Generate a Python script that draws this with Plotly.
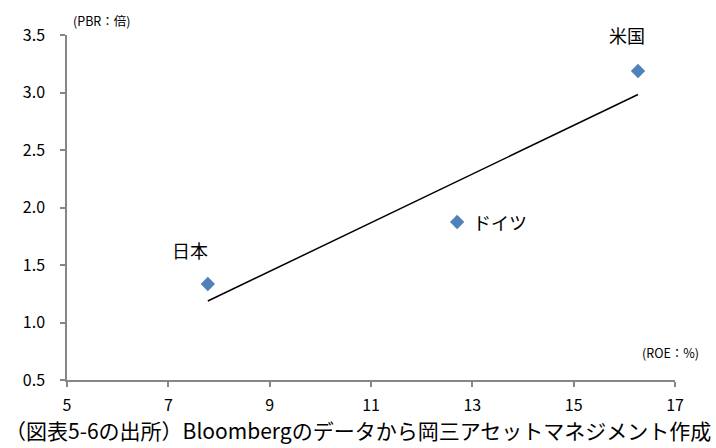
import numpy as np
import plotly.graph_objects as go

countries = ["日本", "ドイツ", "米国"]
roe = [7.78, 12.70, 16.27]
pbr = [1.335, 1.874, 3.187]
x_ticks = [5, 7, 9, 11, 13, 15, 17]
y_ticks = [0.5, 1.0, 1.5, 2.0, 2.5, 3.0, 3.5]

FONT = "Noto Sans CJK JP"

slope, intercept = np.polyfit(roe, pbr, 1)
tx = [min(roe), max(roe)]
ty = [slope * v + intercept for v in tx]

fig = go.Figure()
fig.add_trace(go.Scatter(x=tx, y=ty, mode="lines",
                         line=dict(color="black", width=1.5), hoverinfo="skip"))
fig.add_trace(go.Scatter(x=roe, y=pbr, mode="markers",
                         marker=dict(symbol="diamond", size=11, color="#4F81BD"),
                         text=countries))

# country labels
label_pos = {
    "日本": dict(xshift=-18, yshift=34, xanchor="center"),
    "ドイツ": dict(xshift=14, yshift=0, xanchor="left"),
    "米国": dict(xshift=-11, yshift=36, xanchor="center"),
}
for c, x, y in zip(countries, roe, pbr):
    p = label_pos[c]
    fig.add_annotation(x=x, y=y, text=c, showarrow=False,
                       xanchor=p["xanchor"], yanchor="middle",
                       xshift=p["xshift"], yshift=p["yshift"],
                       font=dict(family=FONT, size=18, color="black"))

fig.add_annotation(xref="paper", yref="paper", x=0.006, y=1.0, yshift=15,
                   text="(PBR：倍)", showarrow=False, xanchor="left", yanchor="middle",
                   font=dict(family=FONT, size=12.5, color="black"))
fig.add_annotation(xref="paper", yref="paper", x=1.043, y=0.0, yshift=28,
                   text="(ROE：%)", showarrow=False, xanchor="right", yanchor="middle",
                   font=dict(family=FONT, size=12.5, color="black"))
fig.add_annotation(xref="paper", yref="paper", x=-0.105, y=0.0, yshift=-67,
                   text="（図表5-6の出所）Bloombergのデータから岡三アセットマネジメント作成",
                   showarrow=False, xanchor="left", yanchor="bottom",
                   font=dict(family=FONT, size=21, color="black"))

axis_common = dict(showgrid=False, zeroline=False, showline=True,
                   linecolor="#868686", linewidth=1.5,
                   ticks="outside", ticklen=5, tickcolor="#868686", tickwidth=1.5,
                   tickfont=dict(family=FONT, size=16, color="black"))
fig.update_xaxes(range=[5, 17], tickvals=x_ticks, ticktext=[str(v) for v in x_ticks],
                 ticklabelstandoff=5, **axis_common)
fig.update_yaxes(range=[0.5, 3.5], tickvals=y_ticks, ticktext=[f"{v:.1f}" for v in y_ticks],
                 ticklabelstandoff=12, **axis_common)

fig.update_layout(width=716, height=448, showlegend=False,
                  plot_bgcolor="white", paper_bgcolor="white",
                  margin=dict(l=67, r=41, t=35, b=68))
fig.write_html("out.html")
